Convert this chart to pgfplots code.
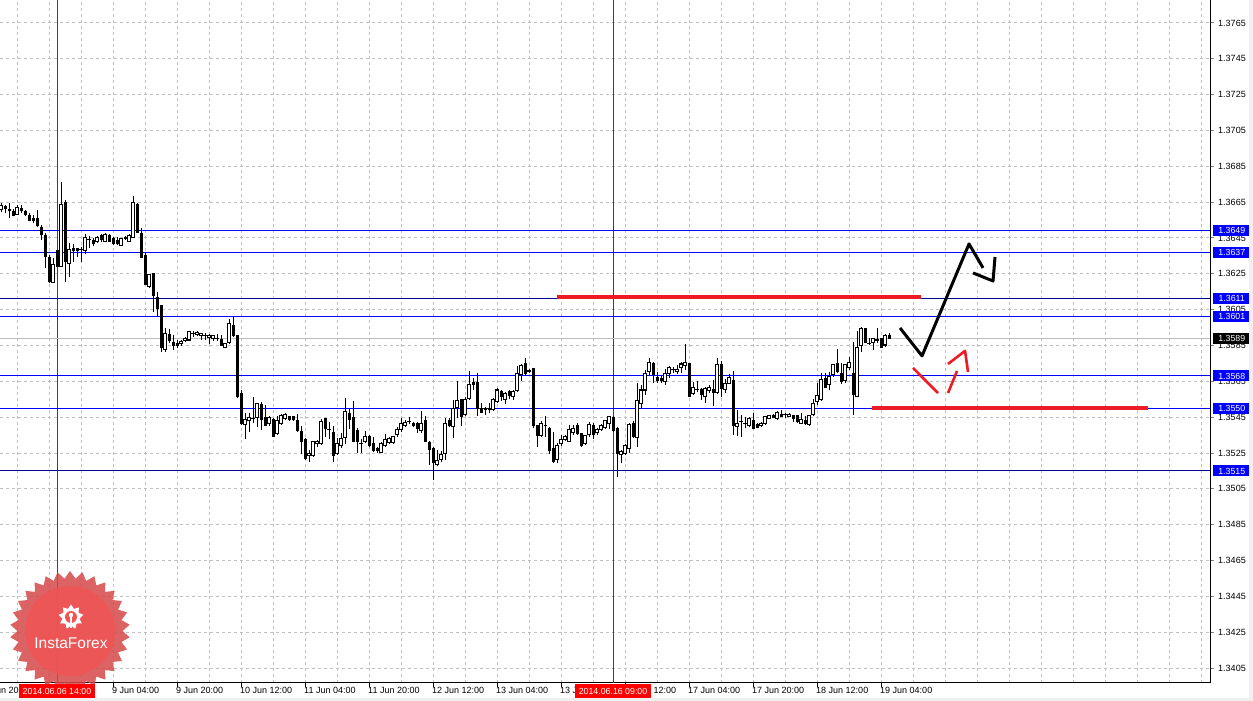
\documentclass[border=0pt]{standalone}
\usepackage{pgfplots}
\pgfplotsset{compat=1.18}
\usepackage{pgfplotstable}
\usepackage{fontspec}
\setmainfont{Liberation Sans}
\usetikzlibrary{shapes.geometric}
\definecolor{lvlblue}{RGB}{0,0,255}
\definecolor{lvlnavy}{RGB}{0,0,150}
\definecolor{mtred}{RGB}{237,28,36}
\definecolor{vline}{RGB}{220,0,0}
\definecolor{gridc}{RGB}{192,192,192}
\definecolor{bidc}{RGB}{192,192,192}
\definecolor{sealout}{RGB}{214,72,72}
\definecolor{sealin}{RGB}{240,84,84}
\definecolor{datered}{RGB}{255,0,0}
\pgfplotstableread{
n o h l c
0 1.36607 1.36644 1.36597 1.36631
1 1.36625 1.36635 1.36588 1.36612
2 1.36611 1.36644 1.36560 1.36603
3 1.36597 1.36611 1.36570 1.36573
4 1.36583 1.36635 1.36579 1.36622
5 1.36612 1.36635 1.36592 1.36603
6 1.36597 1.36607 1.36570 1.36583
7 1.36573 1.36588 1.36542 1.36547
8 1.36560 1.36579 1.36532 1.36547
9 1.36560 1.36607 1.36514 1.36518
10 1.36510 1.36523 1.36439 1.36467
11 1.36462 1.36477 1.36281 1.36346
12 1.36343 1.36356 1.36198 1.36207
13 1.36201 1.36337 1.36198 1.36304
14 1.36380 1.36384 1.36291 1.36291
15 1.36291 1.36761 1.36291 1.36635
16 1.36648 1.36663 1.36207 1.36318
17 1.36309 1.36421 1.36231 1.36387
18 1.36393 1.36417 1.36318 1.36380
19 1.36393 1.36393 1.36343 1.36380
20 1.36384 1.36398 1.36318 1.36384
21 1.36380 1.36471 1.36361 1.36454
22 1.36443 1.36462 1.36393 1.36443
23 1.36434 1.36449 1.36406 1.36421
24 1.36430 1.36462 1.36421 1.36452
25 1.36462 1.36471 1.36430 1.36443
26 1.36430 1.36477 1.36428 1.36471
27 1.36462 1.36471 1.36425 1.36430
28 1.36447 1.36458 1.36411 1.36421
29 1.36436 1.36458 1.36411 1.36421
30 1.36410 1.36449 1.36408 1.36447
31 1.36454 1.36462 1.36439 1.36445
32 1.36430 1.36471 1.36425 1.36462
33 1.36454 1.36685 1.36449 1.36648
34 1.36638 1.36648 1.36477 1.36480
35 1.36473 1.36504 1.36337 1.36343
36 1.36350 1.36365 1.36188 1.36192
37 1.36179 1.36250 1.36170 1.36244
38 1.36253 1.36253 1.36039 1.36127
39 1.36119 1.36151 1.36008 1.36058
40 1.36071 1.36077 1.35816 1.35840
41 1.35829 1.35946 1.35816 1.35919
42 1.35909 1.35941 1.35863 1.35878
43 1.35868 1.35909 1.35826 1.35850
44 1.35863 1.35881 1.35835 1.35850
45 1.35859 1.35881 1.35848 1.35872
46 1.35878 1.35900 1.35867 1.35891
47 1.35881 1.35933 1.35878 1.35930
48 1.35919 1.35933 1.35900 1.35919
49 1.35909 1.35932 1.35904 1.35922
50 1.35906 1.35922 1.35881 1.35919
51 1.35907 1.35919 1.35881 1.35907
52 1.35893 1.35915 1.35859 1.35904
53 1.35891 1.35909 1.35878 1.35904
54 1.35891 1.35915 1.35878 1.35891
55 1.35881 1.35909 1.35848 1.35852
56 1.35840 1.35863 1.35835 1.35859
57 1.35868 1.35997 1.35859 1.35971
58 1.35961 1.36012 1.35900 1.35906
59 1.35906 1.35909 1.35556 1.35565
60 1.35580 1.35602 1.35407 1.35413
61 1.35407 1.35472 1.35327 1.35439
62 1.35431 1.35472 1.35370 1.35450
63 1.35442 1.35565 1.35416 1.35442
64 1.35450 1.35532 1.35398 1.35528
65 1.35519 1.35537 1.35379 1.35435
66 1.35450 1.35519 1.35402 1.35405
67 1.35413 1.35457 1.35402 1.35450
68 1.35439 1.35444 1.35338 1.35342
69 1.35357 1.35454 1.35351 1.35431
70 1.35416 1.35468 1.35407 1.35457
71 1.35444 1.35472 1.35435 1.35467
72 1.35454 1.35457 1.35431 1.35439
73 1.35454 1.35457 1.35431 1.35439
74 1.35431 1.35468 1.35370 1.35375
75 1.35368 1.35402 1.35245 1.35314
76 1.35327 1.35333 1.35212 1.35221
77 1.35234 1.35268 1.35202 1.35249
78 1.35234 1.35320 1.35230 1.35314
79 1.35305 1.35323 1.35286 1.35316
80 1.35301 1.35439 1.35295 1.35426
81 1.35442 1.35444 1.35338 1.35388
82 1.35379 1.35426 1.35327 1.35379
83 1.35366 1.35402 1.35202 1.35236
84 1.35245 1.35333 1.35240 1.35305
85 1.35290 1.35361 1.35277 1.35333
86 1.35336 1.35556 1.35301 1.35480
87 1.35468 1.35495 1.35383 1.35435
88 1.35450 1.35543 1.35309 1.35314
89 1.35375 1.35388 1.35249 1.35314
90 1.35305 1.35327 1.35249 1.35305
91 1.35312 1.35375 1.35305 1.35342
92 1.35342 1.35351 1.35282 1.35290
93 1.35305 1.35342 1.35258 1.35264
94 1.35277 1.35286 1.35249 1.35262
95 1.35255 1.35309 1.35249 1.35305
96 1.35290 1.35357 1.35286 1.35327
97 1.35309 1.35342 1.35301 1.35331
98 1.35309 1.35346 1.35301 1.35342
99 1.35355 1.35394 1.35342 1.35383
100 1.35383 1.35444 1.35370 1.35416
101 1.35405 1.35435 1.35398 1.35420
102 1.35426 1.35450 1.35413 1.35426
103 1.35416 1.35426 1.35398 1.35403
104 1.35416 1.35426 1.35361 1.35388
105 1.35375 1.35482 1.35361 1.35416
106 1.35429 1.35454 1.35309 1.35314
107 1.35309 1.35320 1.35184 1.35268
108 1.35277 1.35286 1.35100 1.35197
109 1.35184 1.35268 1.35175 1.35208
110 1.35216 1.35264 1.35202 1.35240
111 1.35249 1.35444 1.35212 1.35416
112 1.35431 1.35444 1.35398 1.35402
113 1.35398 1.35547 1.35336 1.35498
114 1.35504 1.35654 1.35444 1.35541
115 1.35547 1.35550 1.35402 1.35454
116 1.35463 1.35565 1.35454 1.35547
117 1.35556 1.35710 1.35547 1.35630
118 1.35643 1.35667 1.35602 1.35630
119 1.35643 1.35699 1.35454 1.35500
120 1.35500 1.35532 1.35472 1.35476
121 1.35500 1.35509 1.35463 1.35491
122 1.35500 1.35528 1.35476 1.35491
123 1.35491 1.35556 1.35487 1.35547
124 1.35537 1.35612 1.35528 1.35602
125 1.35591 1.35602 1.35541 1.35565
126 1.35550 1.35588 1.35524 1.35580
127 1.35591 1.35602 1.35550 1.35574
128 1.35565 1.35602 1.35547 1.35593
129 1.35599 1.35736 1.35593 1.35692
130 1.35686 1.35746 1.35654 1.35740
131 1.35747 1.35779 1.35686 1.35695
132 1.35708 1.35718 1.35699 1.35708
133 1.35720 1.35723 1.35388 1.35402
134 1.35402 1.35407 1.35286 1.35349
135 1.35346 1.35431 1.35342 1.35416
136 1.35405 1.35454 1.35342 1.35402
137 1.35388 1.35394 1.35245 1.35264
138 1.35277 1.35370 1.35193 1.35202
139 1.35216 1.35305 1.35197 1.35294
140 1.35301 1.35351 1.35290 1.35327
141 1.35327 1.35349 1.35320 1.35342
142 1.35314 1.35405 1.35309 1.35379
143 1.35364 1.35407 1.35351 1.35388
144 1.35402 1.35416 1.35351 1.35361
145 1.35357 1.35361 1.35286 1.35290
146 1.35301 1.35351 1.35295 1.35346
147 1.35351 1.35426 1.35342 1.35407
148 1.35402 1.35420 1.35327 1.35351
149 1.35364 1.35392 1.35351 1.35379
150 1.35383 1.35413 1.35375 1.35405
151 1.35394 1.35435 1.35383 1.35431
152 1.35413 1.35457 1.35383 1.35454
153 1.35450 1.35454 1.35370 1.35375
154 1.35388 1.35394 1.35115 1.35245
155 1.35240 1.35268 1.35193 1.35258
156 1.35245 1.35301 1.35240 1.35290
157 1.35277 1.35416 1.35249 1.35407
158 1.35416 1.35431 1.35333 1.35342
159 1.35338 1.35640 1.35286 1.35543
160 1.35528 1.35630 1.35495 1.35602
161 1.35602 1.35714 1.35574 1.35695
162 1.35705 1.35779 1.35686 1.35757
163 1.35747 1.35760 1.35640 1.35690
164 1.35673 1.35705 1.35640 1.35654
165 1.35667 1.35681 1.35640 1.35654
166 1.35649 1.35718 1.35630 1.35692
167 1.35695 1.35733 1.35667 1.35729
168 1.35714 1.35729 1.35695 1.35714
169 1.35705 1.35742 1.35692 1.35718
170 1.35729 1.35760 1.35695 1.35747
171 1.35738 1.35859 1.35714 1.35757
172 1.35747 1.35751 1.35561 1.35565
173 1.35580 1.35649 1.35574 1.35617
174 1.35606 1.35654 1.35593 1.35606
175 1.35602 1.35612 1.35547 1.35578
176 1.35565 1.35617 1.35528 1.35610
177 1.35599 1.35630 1.35584 1.35617
178 1.35606 1.35658 1.35513 1.35588
179 1.35588 1.35779 1.35580 1.35746
180 1.35742 1.35766 1.35565 1.35612
181 1.35606 1.35662 1.35584 1.35640
182 1.35640 1.35692 1.35636 1.35673
183 1.35654 1.35710 1.35351 1.35402
184 1.35398 1.35491 1.35346 1.35416
185 1.35426 1.35463 1.35342 1.35426
186 1.35416 1.35450 1.35388 1.35416
187 1.35402 1.35450 1.35398 1.35441
188 1.35431 1.35476 1.35383 1.35388
189 1.35407 1.35416 1.35388 1.35394
190 1.35402 1.35426 1.35394 1.35416
191 1.35413 1.35457 1.35407 1.35454
192 1.35444 1.35463 1.35439 1.35457
193 1.35457 1.35468 1.35444 1.35450
194 1.35444 1.35482 1.35435 1.35476
195 1.35467 1.35491 1.35450 1.35454
196 1.35463 1.35476 1.35444 1.35463
197 1.35454 1.35472 1.35450 1.35463
198 1.35457 1.35463 1.35426 1.35444
199 1.35457 1.35463 1.35420 1.35426
200 1.35416 1.35472 1.35413 1.35439
201 1.35431 1.35454 1.35407 1.35413
202 1.35407 1.35463 1.35402 1.35457
203 1.35463 1.35550 1.35454 1.35528
204 1.35537 1.35640 1.35519 1.35569
205 1.35550 1.35695 1.35543 1.35658
206 1.35667 1.35699 1.35612 1.35617
207 1.35630 1.35705 1.35602 1.35677
208 1.35686 1.35747 1.35677 1.35742
209 1.35747 1.35829 1.35695 1.35705
210 1.35695 1.35751 1.35636 1.35649
211 1.35654 1.35747 1.35640 1.35742
212 1.35729 1.35788 1.35714 1.35757
213 1.35695 1.35872 1.35463 1.35578
214 1.35565 1.35933 1.35561 1.35840
215 1.35848 1.35952 1.35816 1.35946
216 1.35943 1.35946 1.35863 1.35867
217 1.35859 1.35891 1.35853 1.35859
218 1.35867 1.35891 1.35826 1.35891
219 1.35881 1.35946 1.35863 1.35881
220 1.35891 1.35891 1.35835 1.35840
221 1.35853 1.35913 1.35840 1.35906
222 1.35904 1.35919 1.35885 1.35891
}\candles
\begin{document}
\begin{tikzpicture}[x=1bp,y=1bp]
\begin{axis}[
  at={(0,0)}, anchor=south west, scale only axis,
  width=1210bp, height=683bp,
  xmin=-0.25, xmax=302.25, ymin=1.33967, ymax=1.37778,
  clip=false,
  axis x line*=bottom, axis y line*=right,
  axis line style={-, black, line width=1bp},
  xtick={28,44,...,220},
  xticklabels={9 Jun 04:00,9 Jun 20:00,10 Jun 12:00,11 Jun 04:00,11 Jun 20:00,12 Jun 12:00,13 Jun 04:00,13 Jun 20:00,16 Jun 12:00,17 Jun 04:00,17 Jun 20:00,18 Jun 12:00,19 Jun 04:00},
  minor xtick={4,12,...,300},
  ytick={1.3405,1.3425,1.3445,1.3465,1.3485,1.3505,1.3525,1.3545,1.3565,1.3585,1.3605,1.3625,1.3645,1.3665,1.3685,1.3705,1.3725,1.3745,1.3765},
  yticklabels={1.3405,1.3425,1.3445,1.3465,1.3485,1.3505,1.3525,1.3545,1.3565,1.3585,1.3605,1.3625,1.3645,1.3665,1.3685,1.3705,1.3725,1.3745,1.3765},
  xmajorgrids, xminorgrids, ymajorgrids,
  major grid style={gridc, line width=1bp, dash pattern=on 3bp off 3bp},
  minor grid style={gridc, line width=1bp, dash pattern=on 3bp off 3bp},
  tick align=outside,
  major tick length=4bp, minor tick length=0bp,
  x tick style={black, line width=1bp},
  y tick style={gray, line width=1bp},
  ticklabel style={font=\fontsize{9bp}{10bp}\selectfont, text=black},
  xticklabel style={anchor=north west, inner xsep=1bp, inner ysep=1bp, xshift=-2bp, yshift=1bp},
  yticklabel style={anchor=west, inner xsep=1bp, xshift=3bp},
]
% vertical marker lines
\addplot[vline, line width=1bp] coordinates {(14,1.33967) (14,1.37778)};
\addplot[vline, line width=1bp] coordinates {(153,1.33967) (153,1.37778)};
% bid line
\addplot[bidc, line width=1bp] coordinates {(-0.25,1.3589) (302.25,1.3589)};
% levels
\addplot[lvlblue, line width=1bp] coordinates {(-0.25,1.3649) (302.25,1.3649)};
\addplot[lvlblue, line width=1bp] coordinates {(-0.25,1.3637) (302.25,1.3637)};
\addplot[lvlnavy, line width=1bp] coordinates {(-0.25,1.3611) (302.25,1.3611)};
\addplot[lvlblue, line width=1bp] coordinates {(-0.25,1.3601) (302.25,1.3601)};
\addplot[lvlblue, line width=1bp] coordinates {(-0.25,1.3568) (302.25,1.3568)};
\addplot[lvlblue, line width=1bp] coordinates {(-0.25,1.3550) (302.25,1.3550)};
\addplot[lvlnavy, line width=1bp] coordinates {(-0.25,1.3515) (302.25,1.3515)};
% wicks
\addplot[draw=none, mark=none,
  error bars/.cd, y dir=plus, y explicit, error mark=none,
  error bar style={line width=1bp, draw=black, solid}]
  table[x=n, y=l, y error plus expr=\thisrow{h}-\thisrow{l}] {\candles};
% black bodies
\addplot[draw=none, mark=none,
  restrict expr to domain={\thisrow{o}-\thisrow{c}}{0.000001:1},
  error bars/.cd, y dir=plus, y explicit, error mark=none,
  error bar style={line width=3bp, draw=black, solid}]
  table[x=n, y expr=\thisrow{c}-0.00003, y error plus expr=\thisrow{o}-\thisrow{c}+0.00006] {\candles};
% white bodies outline
\addplot[draw=none, mark=none,
  restrict expr to domain={\thisrow{c}-\thisrow{o}}{0:1},
  error bars/.cd, y dir=plus, y explicit, error mark=none,
  error bar style={line width=3.8bp, draw=black, solid}]
  table[x=n, y expr=\thisrow{o}-0.00003, y error plus expr=\thisrow{c}-\thisrow{o}+0.00006] {\candles};
% white bodies interior
\addplot[draw=none, mark=none,
  restrict expr to domain={\thisrow{c}-\thisrow{o}}{0.00009:1},
  error bars/.cd, y dir=plus, y explicit, error mark=none,
  error bar style={line width=1.8bp, draw=white, solid}]
  table[x=n, y expr=\thisrow{o}+0.00003, y error plus expr=\thisrow{c}-\thisrow{o}-0.00006] {\candles};
% red horizontal marks
\addplot[mtred, line width=4bp] coordinates {(139,1.36121) (230,1.36121)};
\addplot[mtred, line width=4bp] coordinates {(217.75,1.3550) (286.75,1.3550)};
% forecast arrows
\addplot[black, line width=3bp, line join=round] coordinates {(224.75,1.35948) (230.25,1.35792) (242,1.36417) (245.5,1.36283)};
\addplot[black, line width=3bp, line join=round] coordinates {(243,1.36255) (248,1.3621) (248.5,1.36344)};
\addplot[mtred, line width=2.6bp] coordinates {(228,1.35725) (234.25,1.35585)};
\addplot[mtred, line width=2.6bp] coordinates {(236.75,1.35585) (239,1.35708)};
\addplot[mtred, line width=2.6bp, line join=round] coordinates {(236.75,1.35747) (241,1.3582) (241.75,1.35703)};
% anchor coordinates for labels
\coordinate (L1) at (axis cs:302.25,1.3649);
\coordinate (L2) at (axis cs:302.25,1.3637);
\coordinate (L3) at (axis cs:302.25,1.3611);
\coordinate (L4) at (axis cs:302.25,1.3601);
\coordinate (L5) at (axis cs:302.25,1.3589);
\coordinate (L6) at (axis cs:302.25,1.3568);
\coordinate (L7) at (axis cs:302.25,1.3550);
\coordinate (L8) at (axis cs:302.25,1.3515);
\coordinate (D1) at (axis cs:14,1.33967);
\coordinate (D2) at (axis cs:153,1.33967);
\coordinate (X0) at (axis cs:-4,1.33967);
\end{axis}
% first partial date label
\node[anchor=north west, inner xsep=1bp, inner ysep=1bp, font=\fontsize{9bp}{10bp}\selectfont, xshift=-2bp, yshift=-3bp] at (X0) {6 Jun 2014};
% logo
\begin{scope}[opacity=0.85]
\node[star, star points=30, star point ratio=1.14, minimum size=120bp, fill=sealout, draw=none, inner sep=0] at (70,52) {};
\fill[sealin] (70,52) circle (45bp);
\end{scope}
\node[star, star points=9, star point ratio=1.45, minimum size=25bp, fill=white, inner sep=0] at (71,66) {};
\fill[sealin] (71,66) circle (6bp);
\fill[white] (71,68) circle (2.2bp);
\fill[white] (69.6,68) rectangle (72.4,55);
\node[text=white, font=\fontsize{15.5bp}{16bp}\selectfont] at (71,40) {InstaForex};
% price labels on right
\tikzset{plab/.style={text=white, font=\fontsize{8.8bp}{10bp}\selectfont, inner sep=0, minimum width=37bp, minimum height=11bp, anchor=west, xshift=3bp}}
\node[plab, fill=lvlblue] at (L1) {1.3649};
\node[plab, fill=lvlblue] at (L2) {1.3637};
\node[plab, fill=lvlblue] at (L3) {1.3611};
\node[plab, fill=lvlblue] at (L4) {1.3601};
\node[plab, fill=black] at (L5) {1.3589};
\node[plab, fill=lvlblue] at (L6) {1.3568};
\node[plab, fill=lvlblue] at (L7) {1.3550};
\node[plab, fill=lvlblue] at (L8) {1.3515};
% date labels at bottom
\tikzset{dlab/.style={fill=datered, text=white, font=\fontsize{8.8bp}{10bp}\selectfont, inner xsep=4bp, inner ysep=0, minimum height=14bp, anchor=north, yshift=-1bp}}
\node[dlab] at (D1) {2014.06.06 14:00};
\node[dlab] at (D2) {2014.06.16 09:00};
% frame strips
\fill[gray!12] (1249,-18) rectangle (1253,683);
\fill[gray!12] (0,-18) rectangle (1253,-15);
\pgfresetboundingbox
\useasboundingbox (0,-18) rectangle (1253,683);
\end{tikzpicture}
\end{document}
